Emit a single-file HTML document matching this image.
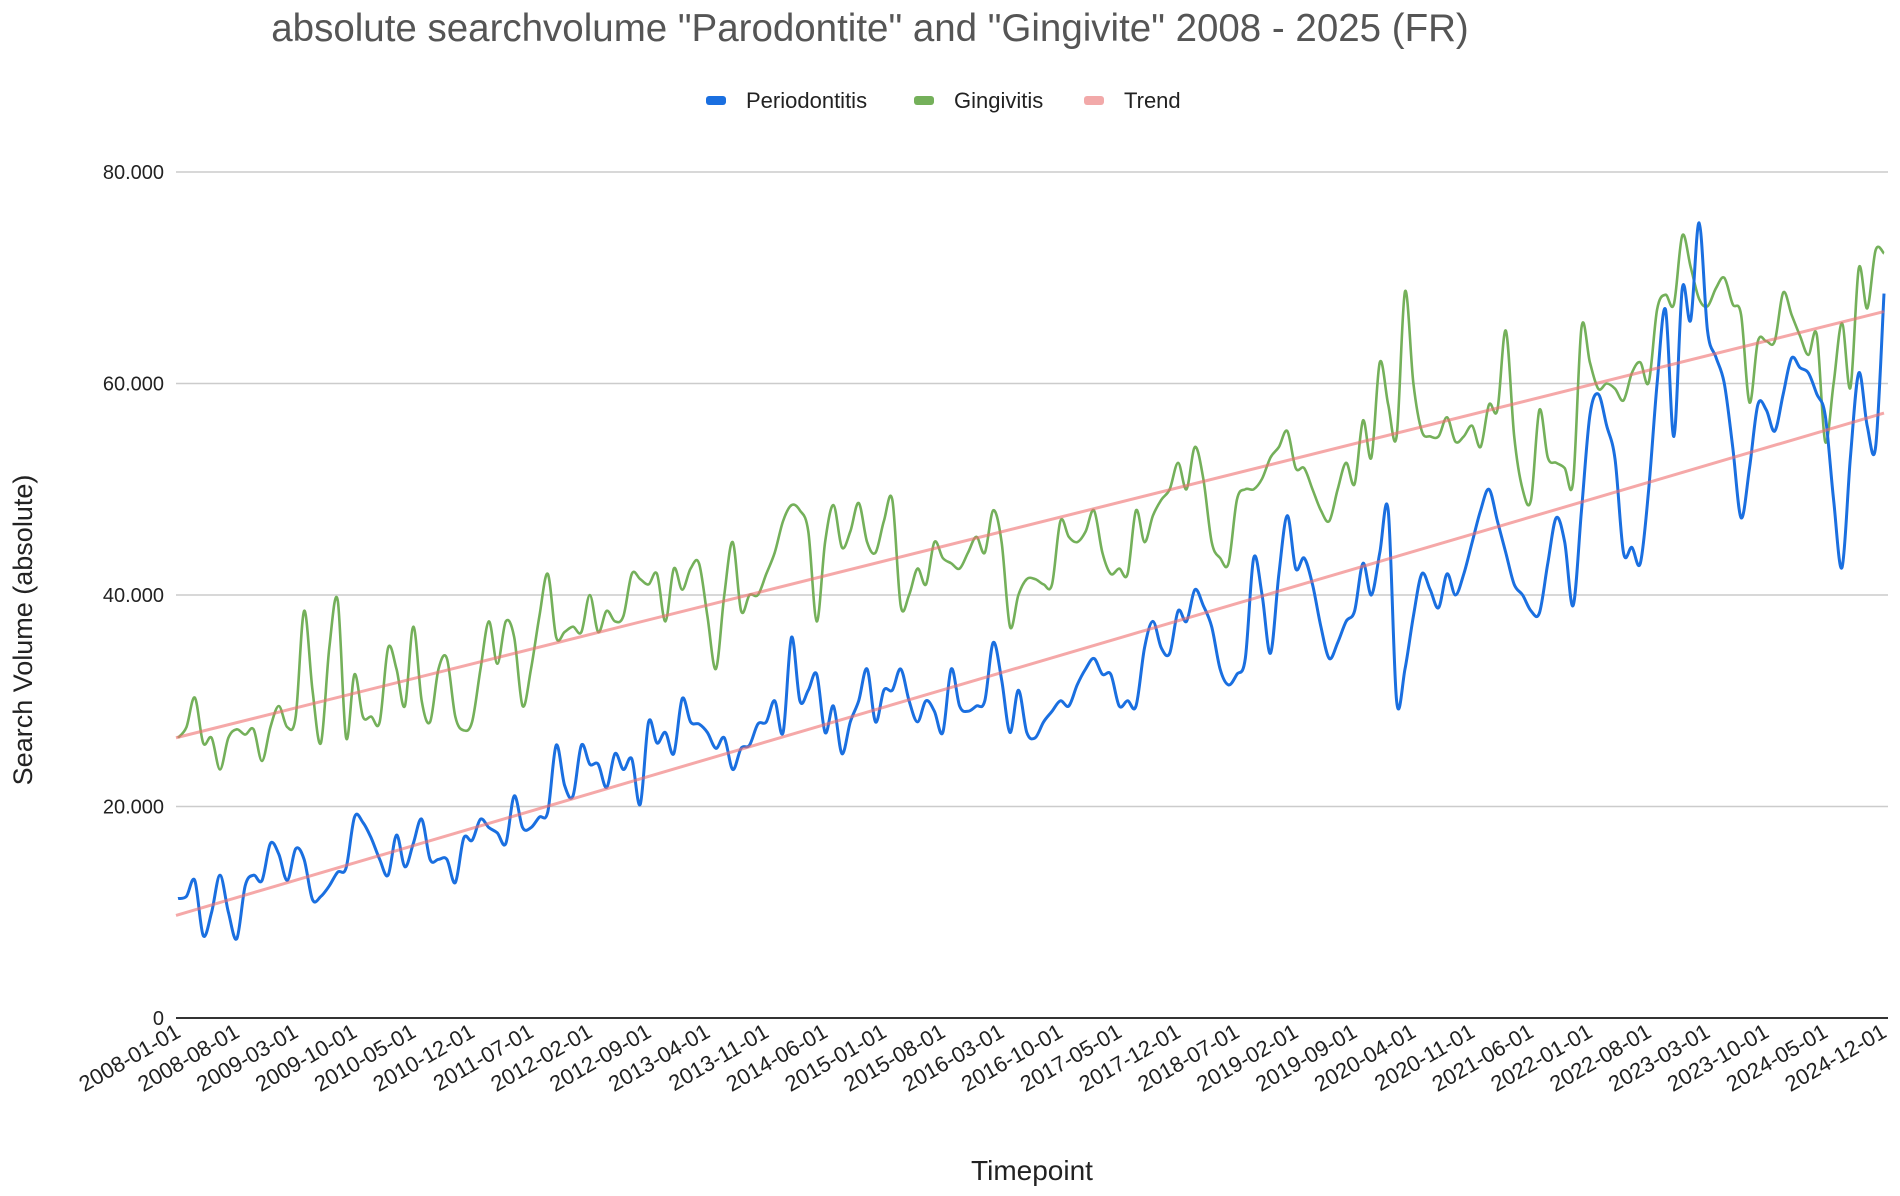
<!DOCTYPE html>
<html><head><meta charset="utf-8">
<style>
html,body{margin:0;padding:0;background:#fff;}
svg{display:block;font-family:"Liberation Sans",Arial,sans-serif;}
</style></head>
<body>
<svg id="chart" width="1900" height="1196" viewBox="0 0 1900 1196" xmlns="http://www.w3.org/2000/svg">
<text x="870" y="41" text-anchor="middle" font-size="38.5" fill="#555">absolute searchvolume "Parodontite" and "Gingivite" 2008 - 2025 (FR)</text>
<g>
  <g><rect x="706" y="96" width="20" height="9" rx="3" fill="#1a6fe0"/><text x="746" y="108" font-size="22" fill="#222">Periodontitis</text></g>
  <g><rect x="914" y="96" width="20" height="9" rx="3" fill="#74b05a"/><text x="954" y="108" font-size="22" fill="#222">Gingivitis</text></g>
  <g><rect x="1084" y="96" width="20" height="9" rx="3" fill="#f2a9a9"/><text x="1124" y="108" font-size="22" fill="#222">Trend</text></g>
</g>
<text transform="translate(32,630) rotate(-90)" text-anchor="middle" font-size="27" fill="#222">Search Volume (absolute)</text>
<text x="1032" y="1180" text-anchor="middle" font-size="28" fill="#222">Timepoint</text>
<g id="grid"></g>
<g id="xlabels"></g>
<g id="series"></g>
</svg>
<script>
const yTicks=[0,20000,40000,60000,80000];
const yTickLabels=["0","20.000","40.000","60.000","80.000"];
const xTickLabels=["2008-01-01","2008-08-01","2009-03-01","2009-10-01","2010-05-01","2010-12-01","2011-07-01","2012-02-01","2012-09-01","2013-04-01","2013-11-01","2014-06-01","2015-01-01","2015-08-01","2016-03-01","2016-10-01","2017-05-01","2017-12-01","2018-07-01","2019-02-01","2019-09-01","2020-04-01","2020-11-01","2021-06-01","2022-01-01","2022-08-01","2023-03-01","2023-10-01","2024-05-01","2024-12-01"];
const xTickIndex=[0,7,14,21,28,35,42,49,56,63,70,77,84,91,98,105,112,119,126,133,140,147,154,161,168,175,182,189,196,203];
const periodontitis=[11.3,11.5,13,7.8,10,13.5,10,7.5,12.5,13.5,13,16.5,15.5,13,16,15,11.2,11.5,12.5,13.8,14.2,19,18.5,17,15,13.5,17.3,14.3,16.5,18.8,15,15,15,12.8,17,16.8,18.8,18,17.5,16.5,21,18,18,19,19.5,25.8,22,21,25.8,24,24,21.8,25,23.5,24.5,20.2,28,26,27,25,30.2,28,27.8,27,25.5,26.5,23.5,25.5,25.8,27.8,28,30,27,36,30,31,32.5,27,29.5,25,28,30,33,28,31,31,33,30,28,30,29,27,33,29.5,29,29.5,30,35.5,32,27,31,27,26.5,28,29,30,29.5,31.5,33,34,32.5,32.5,29.5,30,29.5,35,37.5,35,34.5,38.5,37.5,40.5,39,37,33,31.5,32.5,34,43.5,40,34.5,42,47.5,42.5,43.5,41,37,34,35.5,37.5,38.5,43,40,44,48,30,33,38,42,40.5,38.8,42,40,42,45,48,50,47,44,41,40,38.5,38.3,43,47.3,45,39,48,57,59,56,52.8,44,44.5,43,50,60,67,55,69,66,75.2,65,62.5,60,54,47.3,52,58,57.5,55.5,59,62.4,61.5,61,59,57,49,42.6,53,61,56,54,68.5];
const gingivitis=[26.5,27.5,30.3,26,26.5,23.5,26.5,27.3,26.8,27.3,24.3,27.5,29.5,27.5,28.5,38.5,31,26,35,39.5,26.5,32.5,28.5,28.5,28,35,33,29.5,37,30,28,33,34,28.5,27.2,28,33,37.5,33.5,37.5,36,29.5,33,38,42,36,36.5,37,36.5,40,36.5,38.5,37.5,38,42,41.5,41,42,37.5,42.5,40.5,42.5,43,38,33,40,45,38.5,40,40,42,44,47,48.5,48,46,37.5,45,48.5,44.5,46,48.7,45,44,47,49,39,40,42.5,41,45,43.5,43,42.5,44,45.5,44,48,45,37,40,41.5,41.5,41,41,47,45.5,45,46,48,44,42,42.5,42,48,45,47.5,49,50,52.5,50,54,51,45,43.5,43,49,50,50,51,53,54,55.5,52,52,50,48,47,50,52.5,50.5,56.5,53,62,58,55,68.7,60,55.5,55,55,56.8,54.5,55,56,54,58,57.5,65,55,50,49,57.5,53,52.5,52,50.7,65.3,62,59.5,60,59.5,58.4,61,62,60.1,67,68.4,67.5,74,71,68,67.3,69,70,67.5,66.5,58.2,64,64,64,68.6,66.5,64.5,62.7,64.6,54.5,60,65.7,59.6,70.9,67.1,72.6,72.3];
const trendPeriodontitis=[9.7,57.2];
const trendGingivitis=[26.5,66.8];

const NS="http://www.w3.org/2000/svg";
const X0=178,X1=1884,Y0=1018,Y1=172,N=204;
function xs(i){return X0+(X1-X0)*i/(N-1);}
function ys(v){return Y0-(Y0-Y1)*v/80000;}
function mk(tag,attrs,parent){const e=document.createElementNS(NS,tag);for(const k in attrs)e.setAttribute(k,attrs[k]);parent.appendChild(e);return e;}
const grid=document.getElementById('grid'),xl=document.getElementById('xlabels'),ser=document.getElementById('series');
yTicks.forEach((t,i)=>{
  const l=mk('line',{x1:176,x2:1888,y1:ys(t),y2:ys(t),stroke:t===0?'#333':'#ccc','stroke-width':t===0?2:1.5},grid);
  
  
  const tx=mk('text',{x:164,y:ys(t)+7,'text-anchor':'end','font-size':20,fill:'#222'},grid);
  tx.textContent=yTickLabels[i];
  
  
});
xTickLabels.forEach((s,i)=>{
  const x=xs(xTickIndex[i])+4,y=1036;
  const t=mk('text',{x:x,y:y,'text-anchor':'end','font-size':22,fill:'#222',transform:`rotate(-30 ${x} ${y})`},xl);
  t.textContent=s;
  
  
});
function smooth(vals){
  const p=vals.map((v,i)=>[xs(i),ys(v*1000)]);
  let d=`M${p[0][0]},${p[0][1]}`;
  for(let i=0;i<p.length-1;i++){
    const a=p[Math.max(0,i-1)],b=p[i],c=p[i+1],e=p[Math.min(p.length-1,i+2)];
    const c1=[b[0]+(c[0]-a[0])/6,b[1]+(c[1]-a[1])/6],c2=[c[0]-(e[0]-b[0])/6,c[1]-(e[1]-b[1])/6];
    d+=`C${c1[0].toFixed(1)},${c1[1].toFixed(1)} ${c2[0].toFixed(1)},${c2[1].toFixed(1)} ${c[0].toFixed(1)},${c[1].toFixed(1)}`;
  }
  return d;
}
const g=mk('path',{d:smooth(gingivitis),fill:'none',stroke:'#74b05a','stroke-width':2.6},ser);


const b=mk('path',{d:smooth(periodontitis),fill:'none',stroke:'#1a6fe0','stroke-width':3},ser);


[[trendGingivitis,'gingivitis-trend-line'],[trendPeriodontitis,'periodontitis-trend-line']].forEach(([tr,name])=>{
  const l=mk('line',{x1:176,y1:ys(tr[0]*1000),x2:xs(N-1),y2:ys(tr[1]*1000),stroke:'#ee6e6e','stroke-opacity':0.6,'stroke-width':3},ser);
  
  
});
</script>
</body></html>
